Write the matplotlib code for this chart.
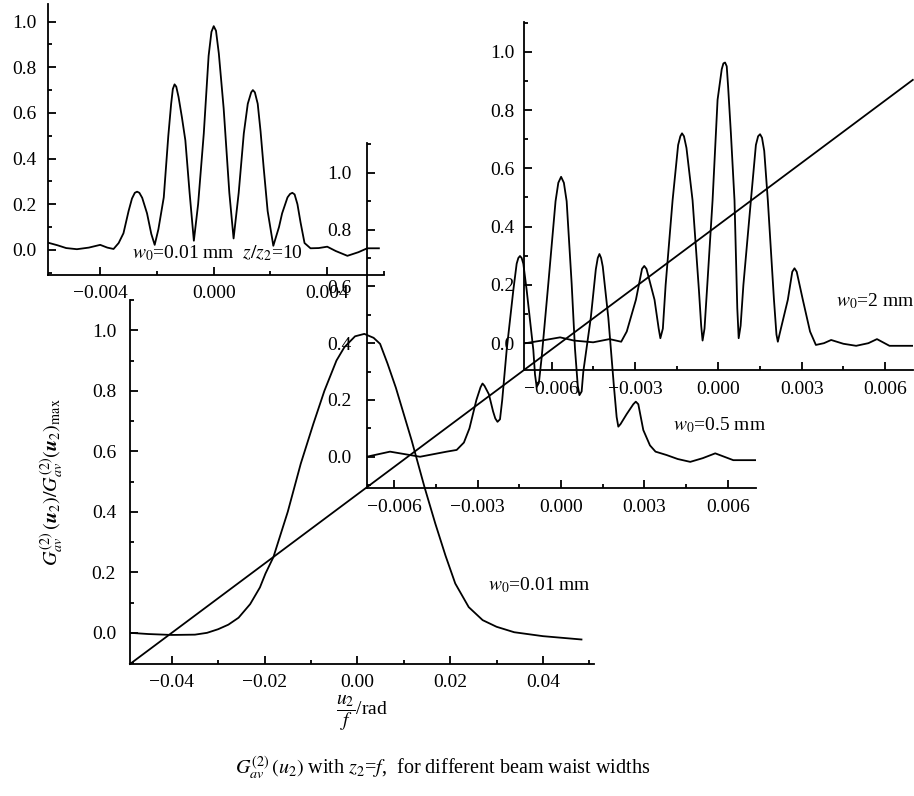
"""
Second-order correlation G_av^(2)(u2) for several beam waist widths,
drawn as a main panel with three overlapping insets.
"""

import matplotlib
matplotlib.use('Agg')
import matplotlib.pyplot as plt
from matplotlib.lines import Line2D
from matplotlib.ticker import MultipleLocator, FuncFormatter

plt.rcParams['font.family'] = ['Liberation Serif', 'DejaVu Serif']
plt.rcParams['mathtext.fontset'] = 'stix'

# w0 = 0.01 mm (main panel), u2/f in rad
main_x = [-0.049, -0.045, -0.040, -0.035, -0.0324, -0.030, -0.0278, -0.0256, -0.0231,
          -0.021, -0.0198, -0.0181, -0.015, -0.0122, -0.0095, -0.0071, -0.0045,
          -0.0028, -0.0005, 0.0015, 0.0035, 0.0049, 0.0065, 0.0083, 0.0117, 0.0145,
          0.0168, 0.019, 0.0211, 0.024, 0.027, 0.030, 0.0338, 0.040, 0.0483]
main_y = [0.0, -0.004, -0.007, -0.006, 0.0, 0.012, 0.027, 0.05, 0.095,
          0.15, 0.196, 0.25, 0.40, 0.559, 0.69, 0.80, 0.90,
          0.944, 0.98, 0.988, 0.975, 0.955, 0.89, 0.81, 0.636, 0.48,
          0.361, 0.255, 0.163, 0.085, 0.042, 0.02, 0.002, -0.011, -0.022]

# w0 = 0.01 mm, z/z2 = 10 (top left inset)
tl_x = [-0.00585, -0.0055, -0.0052, -0.00482, -0.0044, -0.0040, -0.00375, -0.00353,
        -0.00335, -0.00318, -0.0030, -0.00288, -0.00278, -0.0027, -0.00262, -0.00252,
        -0.00235, -0.0022, -0.00208, -0.00195, -0.00176, -0.0016, -0.0015, -0.00144,
        -0.00138, -0.00132, -0.00124, -0.00112, -0.0010, -0.00085, -0.0007, -0.00055,
        -0.00035, -0.00018, -0.00008, 0.0, 0.00008, 0.00018, 0.00035, 0.00055,
        0.0007, 0.00088, 0.00106, 0.0012, 0.00132, 0.00138, 0.00145, 0.00155,
        0.00165, 0.00176, 0.0019, 0.0021, 0.0023, 0.00241, 0.0026, 0.00269,
        0.00277, 0.00285, 0.00295, 0.00306, 0.0032, 0.00341, 0.0037, 0.0040,
        0.0043, 0.00471, 0.0051, 0.00541, 0.00582]
tl_y = [0.032, 0.02, 0.008, 0.003, 0.01, 0.022, 0.01, 0.004,
        0.03, 0.073, 0.17, 0.225, 0.25, 0.255, 0.25, 0.228,
        0.16, 0.07, 0.022, 0.09, 0.23, 0.5, 0.64, 0.705,
        0.725, 0.715, 0.67, 0.58, 0.48, 0.25, 0.04, 0.2,
        0.51, 0.85, 0.955, 0.98, 0.96, 0.86, 0.62, 0.25,
        0.05, 0.25, 0.51, 0.64, 0.69, 0.70, 0.69, 0.64,
        0.52, 0.36, 0.17, 0.018, 0.1, 0.16, 0.23, 0.245,
        0.25, 0.243, 0.2, 0.12, 0.03, 0.007, 0.008, 0.014,
        -0.005, -0.026, -0.01, 0.007, 0.007]

# w0 = 0.5 mm (middle inset)
half_x = [-0.0070, -0.00616, -0.00508, -0.00412, -0.00376, -0.0035, -0.0033, -0.00305,
          -0.0029, -0.00283, -0.00276, -0.0026, -0.00245, -0.00237, -0.00229, -0.0022,
          -0.00212, -0.00196, -0.00172, -0.0016, -0.00154, -0.00148, -0.00142, -0.00136,
          -0.00124, -0.0010, -0.00094, -0.00088, -0.0008, -0.0007, -0.00046, -0.0002,
          -0.0001, 0.0, 0.0001, 0.0002, 0.00038, 0.0005, 0.0006, 0.00066, 0.00074,
          0.0008, 0.00107, 0.00125, 0.00132, 0.00138, 0.00144, 0.0015, 0.0017, 0.0019,
          0.002, 0.00206, 0.00214, 0.00236, 0.0026, 0.00269, 0.00278, 0.00296, 0.0032,
          0.0034, 0.0038, 0.0042, 0.00465, 0.0051, 0.00555, 0.0062, 0.0070]
half_y = [0.0, 0.018, 0.0, 0.018, 0.024, 0.05, 0.10, 0.2,
          0.245, 0.258, 0.25, 0.22, 0.16, 0.135, 0.123, 0.132,
          0.2, 0.376, 0.587, 0.68, 0.7, 0.707, 0.7, 0.68,
          0.587, 0.376, 0.29, 0.246, 0.26, 0.35, 0.61, 0.9,
          0.965, 0.986, 0.965, 0.9, 0.61, 0.38, 0.25, 0.217, 0.23,
          0.3, 0.49, 0.66, 0.7, 0.714, 0.7, 0.67, 0.49, 0.25,
          0.14, 0.106, 0.115, 0.15, 0.185, 0.194, 0.185, 0.094, 0.04,
          0.018, 0.006, -0.008, -0.018, -0.005, 0.012, -0.012, -0.012]

# w0 = 2 mm (top right inset)
two_x = [-0.00694, -0.0063, -0.0057, -0.0052, -0.00451, -0.00392, -0.0035, -0.0033,
         -0.00297, -0.00275, -0.00267, -0.00259, -0.0023, -0.00215, -0.00209, -0.002,
         -0.0019, -0.00165, -0.00145, -0.00137, -0.00131, -0.00124, -0.00115, -0.00093,
         -0.0007, -0.00062, -0.00057, -0.0005, -0.0004, -0.00021, -0.00003, 0.00012,
         0.00018, 0.00024, 0.0003, 0.00035, 0.00045, 0.00058, 0.00068, 0.00073,
         0.0008, 0.0009, 0.00117, 0.00135, 0.00143, 0.0015, 0.00157, 0.00165,
         0.00178, 0.002, 0.00209, 0.00214, 0.0022, 0.0025, 0.00266, 0.00274,
         0.00282, 0.00304, 0.0033, 0.00351, 0.0038, 0.00406, 0.0045, 0.00496,
         0.0054, 0.00571, 0.00616, 0.0070]
two_y = [0.0, 0.01, 0.02, 0.009, 0.003, 0.014, 0.005, 0.04,
         0.149, 0.255, 0.265, 0.255, 0.149, 0.05, 0.017, 0.05,
         0.2, 0.49, 0.68, 0.71, 0.72, 0.71, 0.67, 0.49,
         0.18, 0.06, 0.009, 0.05, 0.2, 0.49, 0.835, 0.94,
         0.96, 0.963, 0.95, 0.88, 0.72, 0.49, 0.12, 0.017,
         0.06, 0.2, 0.49, 0.68, 0.71, 0.717, 0.705, 0.66,
         0.49, 0.15, 0.03, 0.005, 0.03, 0.149, 0.245, 0.257,
         0.245, 0.149, 0.04, -0.006, 0.0, 0.011, -0.002, -0.009,
         0.0, 0.014, -0.009, -0.009]

FS = 14
LW = 1.3


def minus_fmt(digits):
    return FuncFormatter(lambda v, pos: f'{v:.{digits}f}'.replace('-', '\u2212'))


def style_axes(ax, xlim, ylim, xmajor, xminor, xdigits, xpad, ypad):
    ax.set_facecolor('none')
    ax.spines['top'].set_visible(False)
    ax.spines['right'].set_visible(False)
    for s in ['left', 'bottom']:
        ax.spines[s].set_linewidth(LW)
    ax.set_xlim(*xlim)
    ax.set_ylim(*ylim)
    ax.xaxis.set_major_locator(MultipleLocator(xmajor))
    ax.xaxis.set_minor_locator(MultipleLocator(xminor))
    ax.yaxis.set_major_locator(MultipleLocator(0.2))
    ax.yaxis.set_minor_locator(MultipleLocator(0.1))
    ax.xaxis.set_major_formatter(minus_fmt(xdigits))
    ax.yaxis.set_major_formatter(minus_fmt(1))
    ax.tick_params(which='both', direction='in', width=LW, labelsize=FS)
    ax.tick_params(which='major', length=5.5)
    ax.tick_params(which='minor', length=3)
    ax.tick_params(axis='x', which='both', pad=xpad)
    ax.tick_params(axis='y', which='both', pad=ypad)


W, H = 914, 796
fig = plt.figure(figsize=(W / 100, H / 100), dpi=100)


def px_rect(left, right, top, bottom):
    return [left / W, 1 - bottom / H, (right - left) / W, (bottom - top) / H]


rect_main = px_rect(130, 594, 300, 664)
rect_tl = px_rect(47.7, 384, 4, 275)
rect_half = px_rect(366.7, 755.5, 143.3, 487.7)
rect_two = px_rect(524, 912.8, 22.3, 370)

ax_main = fig.add_axes(rect_main)
ax_tl = fig.add_axes(rect_tl)
ax_half = fig.add_axes(rect_half)
ax_two = fig.add_axes(rect_two)

style_axes(ax_main, (-0.049, 0.051), (-0.103, 1.1), 0.02, 0.01, 2, 7, 10)
style_axes(ax_tl, (-0.00585, 0.006), (-0.11, 1.077), 0.004, 0.002, 3, 7, 8)
style_axes(ax_half, (-0.007, 0.007), (-0.109, 1.104), 0.003, 0.0015, 3, 8, 11)
style_axes(ax_two, (-0.007, 0.007), (-0.092, 1.101), 0.003, 0.0015, 3, 8, 7)

ax_main.plot(main_x, main_y, color='black', lw=LW)
ax_tl.plot(tl_x, tl_y, color='black', lw=LW)
ax_half.plot(half_x, half_y, color='black', lw=LW)
ax_two.plot(two_x, two_y, color='black', lw=LW)

ax_main.text(0.0282, 0.157, r'$w_0$=0.01 mm', fontsize=14, va='center')
ax_tl.text(-0.00289, -0.013, r'$w_0$=0.01 mm  $z/z_2$=10', fontsize=14, va='center')
ax_half.text(0.00404, 0.112, r'$w_0$=0.5 mm', fontsize=14, va='center')
ax_two.text(0.00424, 0.143, r'$w_0$=2 mm', fontsize=14, va='center')

# straight line through the origins of the main panel and the two nested insets
x0, y0 = rect_main[0], rect_main[1]
x1, y1 = rect_two[0], rect_two[1]
x_end = rect_two[0] + rect_two[2]
y_end = y0 + (y1 - y0) * (x_end - x0) / (x1 - x0)
fig.add_artist(Line2D([x0, x_end], [y0, y_end], transform=fig.transFigure,
                      color='black', lw=LW))

fig.text(52 / W, 1 - 482 / H,
         r'$G_{av}^{(2)}\,(\mathbfit{u}_2)/G_{av}^{(2)}(\mathbfit{u}_2)_{\rm max}$',
         rotation=90, fontsize=14.5, ha='center', va='center')
fig.text(362 / W, 1 - 713 / H, r'$\dfrac{u_2}{f}$/rad', fontsize=14,
         ha='center', va='center')
fig.text(443 / W, 1 - 768 / H,
         r'$G_{av}^{(2)}\,(u_2)$ with $z_2$=$f$,  for different beam waist widths',
         fontsize=14.5, ha='center', va='center')

fig.savefig('out.png', dpi=100)
